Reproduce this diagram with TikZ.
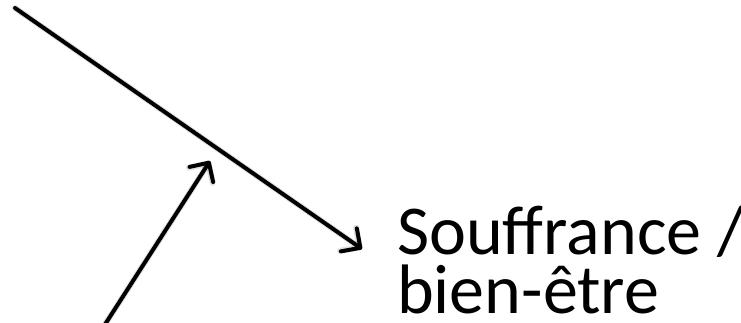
\documentclass[tikz,border=0pt]{standalone}
\usepackage{fontspec}
\setmainfont{Carlito}
\usetikzlibrary{arrows.meta}
\tikzset{
  conn/.style={line width=4pt, line cap=round, line join=round,
    -{Straight Barb[length=14pt, width=28pt, line cap=round, line join=round]}},
  connshadow/.style={conn, draw=black, opacity=0.12, line width=6pt},
  label/.style={font=\fontsize{70pt}{59pt}\selectfont, align=left, inner sep=0pt, anchor=base west}
}
\begin{document}
\begin{tikzpicture}[x=1pt, y=-1pt]
  \useasboundingbox (0,0) rectangle (741,323);
  \clip (0,0) rectangle (741,323);
  % end points of the two connectors
  \coordinate (topstart) at (15,8);
  \coordinate (toptip) at (362,249);
  \coordinate (lowstart) at (104,326);
  \coordinate (lowtip) at (210,161);
  % soft shadows under the connectors
  \begin{scope}[shift={(1.5,3)}]
    \draw[connshadow] (topstart) -- (toptip);
    \draw[connshadow] (lowstart) -- (lowtip);
  \end{scope}
  \draw[conn] (topstart) -- (toptip);
  \draw[conn] (lowstart) -- (lowtip);
  % the base anchor sits on the baseline of the last line
  \node[label] (outcome) at (397,313) {Souffrance /\\bien-être};
\end{tikzpicture}
\end{document}
